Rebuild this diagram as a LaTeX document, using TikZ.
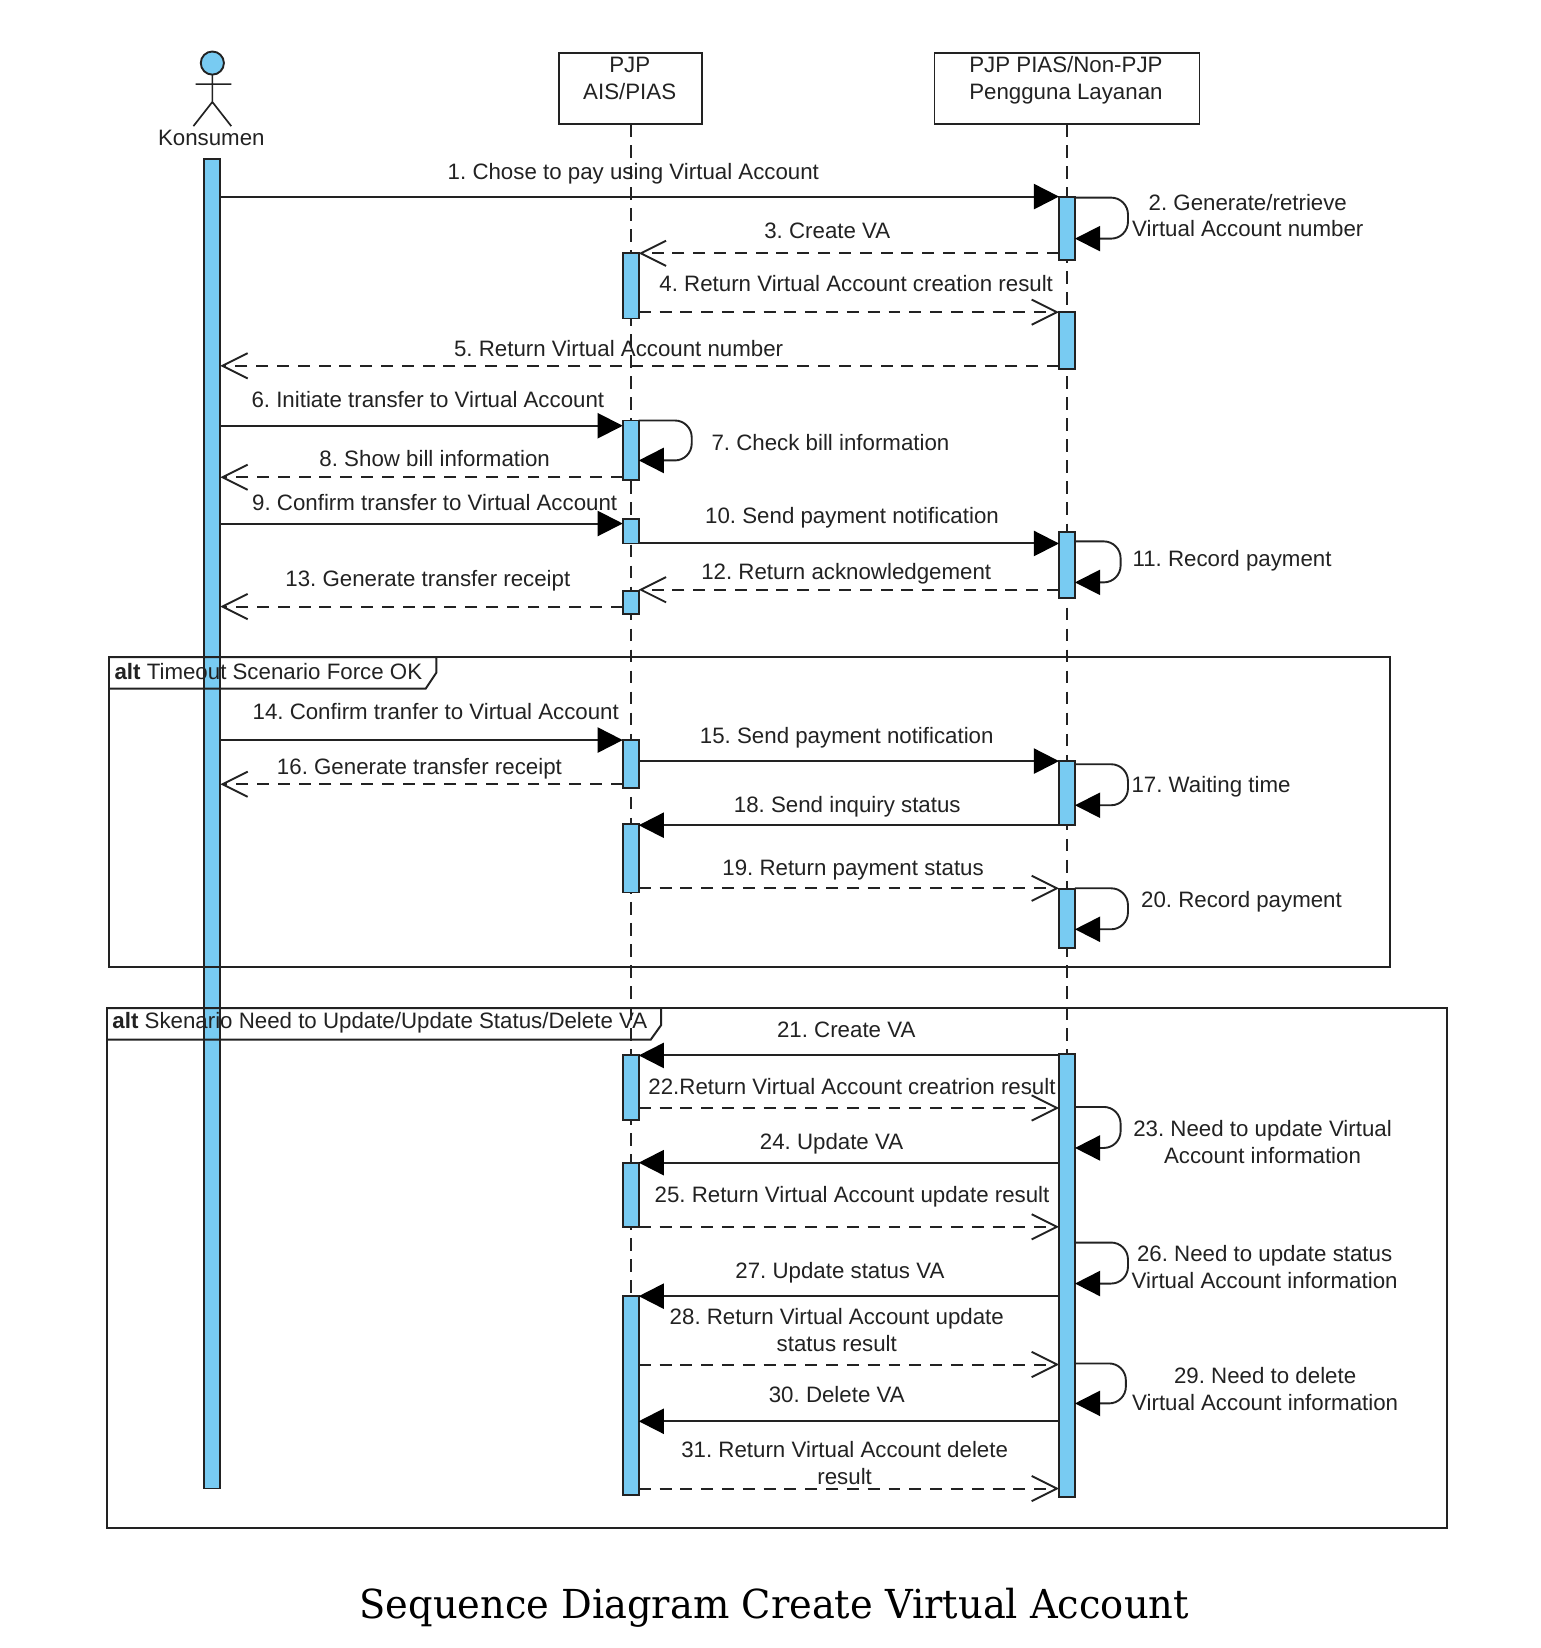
\documentclass[tikz,border=0pt]{standalone}
\usepackage{fontspec}
\setmainfont{Liberation Sans}
\newfontfamily\titlefont[FakeStretch=0.96]{DejaVu Serif}
\usetikzlibrary{arrows.meta}
\definecolor{barblue}{HTML}{78CBF2}
\definecolor{ink}{HTML}{222222}
\tikzset{
  x=0.5pt,y=-0.5pt,
  every node/.style={font=\fontsize{10.6}{12.7}\selectfont,text=ink,inner sep=0pt,outer sep=0pt},
  lifebox/.style={draw=ink,line width=0.9pt,fill=white,anchor=north west},
  lifeline/.style={draw=ink,line width=0.85pt,dash pattern=on 6pt off 4pt},
  actbar/.style={draw=ink,line width=0.9pt,fill=barblue,minimum width=7.6pt},
  solidmsg/.style={draw=ink,line width=0.95pt,-{Triangle[length=12pt,width=12pt,color=black,fill=black]}},
  dashmsg/.style={draw=ink,line width=0.95pt,dash pattern=on 5.7pt off 4.2pt,-{Straight Barb[length=12pt,width=12pt,line width=0.9pt]}},
  selfmsg/.style={draw=ink,line width=0.9pt,rounded corners=8pt,-{Triangle[length=12pt,width=12pt,color=black,fill=black]}},
  frameline/.style={draw=ink,line width=0.95pt},
  msglabel/.style={align=center},
}
\newcommand{\barnode}[4]{\node[actbar,minimum height={(#4-#3)*0.5pt}] (#1) at (#2,{(#3+#4)/2}) {};}
\newcommand{\lbl}[4]{\node[msglabel] (#1) at (#2,#3) {#4};}
\newcommand{\solidgo}[3]{\draw[solidmsg] (#1.east |- 0,#3) -- (#2.west |- 0,#3);}
\newcommand{\solidback}[3]{\draw[solidmsg] (#1.west |- 0,#3) -- (#2.east |- 0,#3);}
\newcommand{\dashgo}[3]{\draw[dashmsg] (#1.east |- 0,#3) -- (#2.west |- 0,#3);}
\newcommand{\dashback}[3]{\draw[dashmsg] (#1.west |- 0,#3) -- (#2.east |- 0,#3);}
\newcommand{\selfloop}[4]{\draw[selfmsg] (#1.east |- 0,#2) -- (#3,#2) -- (#3,#4) -- (#1.east |- 0,#4);}
\begin{document}
\frenchspacing
\begin{tikzpicture}
\fill[white] (0,0) rectangle (1465,1567.7);
\useasboundingbox (0,0) rectangle (1465,1567.7);

% lifelines and heads
\node[lifebox,minimum width=68pt,minimum height=34pt] (pjp) at (532,50) {};
\node[lifebox,minimum width=126pt,minimum height=34pt] (pia) at (889,50) {};
\node[align=center] (pjplabel) at (599,74.5) {PJP\\AIS/PIAS};
\node[align=center] (pialabel) at (1014,76) {PJP PIAS/Non-PJP\\Pengguna Layanan};
\coordinate (pjpend) at (600,1233);
\coordinate (piaend) at (1015,1003);
\draw[lifeline] (pjp.south) -- (pjpend);
\draw[lifeline] (pia.south) -- (piaend);

% actor
\node[draw=ink,line width=0.9pt,fill=barblue,circle,minimum size=11pt] (head) at (202,60) {};
\coordinate (hip) at (202,97);
\coordinate (armL) at (186,80);
\coordinate (armR) at (220,80);
\coordinate (legL) at (184,120);
\coordinate (legR) at (220,120);
\draw[draw=ink,line width=0.8pt] (head.south) -- (hip) -- (legL) (hip) -- (legR) (armL) -- (armR);
\node (konsumen) at (201,131) {Konsumen};

% activation bars
\barnode{k}{202}{151}{1416}
\barnode{a1}{600}{241}{303}
\barnode{a2}{600}{400}{457}
\barnode{a3}{600}{494}{517}
\barnode{a4}{600}{562}{584}
\barnode{a5}{600}{704}{750}
\barnode{a6}{600}{784}{849}
\barnode{a7}{600}{1004}{1065}
\barnode{a8}{600}{1106}{1167}
\barnode{a9}{600}{1233}{1422}
\barnode{b1}{1015}{187}{247}
\barnode{b2}{1015}{297}{351}
\barnode{b3}{1015}{506}{569}
\barnode{b4}{1015}{724}{785}
\barnode{b5}{1015}{846}{902}
\barnode{b6}{1015}{1003}{1424}

% frames
\node[frameline,draw,anchor=north west,minimum width=609pt,minimum height=147.5pt] (alt1) at (104,625) {};
\node[frameline,draw,anchor=north west,minimum width=637pt,minimum height=247.5pt] (alt2) at (102,959) {};
\draw[frameline] (alt1.north west) -- (415,625) -- (415,640) -- (405,655) -- (104,655);
\draw[frameline] (alt2.north west) -- (629,959) -- (629,975) -- (619,989) -- (102,989);
\node[anchor=west] (alt1label) at (109,638.5) {\textbf{alt} Timeout Scenario Force OK};
\node[anchor=west] (alt2label) at (107,973) {\textbf{alt} Skenario Need to Update/Update Status/Delete VA};

% messages
\solidgo{k}{b1}{187}
\selfloop{b1}{188}{1073}{227}
\dashback{b1}{a1}{241}
\dashgo{a1}{b2}{297}
\dashback{b2}{k}{348}
\solidgo{k}{a2}{405}
\selfloop{a2}{400}{658}{438}
\dashback{a2}{k}{454}
\solidgo{k}{a3}{498}
\solidgo{a3}{b3}{517}
\selfloop{b3}{515}{1066}{554}
\dashback{b3}{a4}{561}
\dashback{a4}{k}{577}
\solidgo{k}{a5}{704}
\solidgo{a5}{b4}{724}
\dashback{a5}{k}{746}
\selfloop{b4}{727}{1073}{766}
\solidback{b4}{a6}{785}
\dashgo{a6}{b5}{845}
\selfloop{b5}{845}{1073}{884}
\solidback{b6}{a7}{1004}
\dashgo{a7}{b6}{1054}
\selfloop{b6}{1053}{1066}{1092}
\solidback{b6}{a8}{1106}
\dashgo{a8}{b6}{1167}
\selfloop{b6}{1182}{1073}{1221}
\solidback{b6}{a9}{1233}
\dashgo{a9}{b6}{1298}
\selfloop{b6}{1297}{1071}{1335}
\solidback{b6}{a9}{1352}
\dashgo{a9}{b6}{1416}

% labels
\lbl{m1}{602.5}{165.5}{1. Chose to pay using Virtual Account}
\lbl{m2}{1187}{205}{2. Generate/retrieve\\Virtual Account number}
\lbl{m3}{787}{220}{3. Create VA}
\lbl{m4}{814.5}{270}{4. Return Virtual Account creation result}
\lbl{m5}{588.5}{332}{5. Return Virtual Account number}
\lbl{m6}{407}{380}{6. Initiate transfer to Virtual Account}
\lbl{m7}{790}{420.5}{7. Check bill information}
\lbl{m8}{413.5}{436}{8. Show bill information}
\lbl{m9}{413.5}{478.5}{9. Confirm transfer to Virtual Account}
\lbl{m10}{810.5}{492.5}{10. Send payment notification}
\lbl{m11}{1172}{533}{11. Record payment}
\lbl{m12}{805}{546}{12. Return acknowledgement}
\lbl{m13}{407}{552}{13. Generate transfer receipt}
\lbl{m14}{414.5}{677}{14. Confirm tranfer to Virtual Account}
\lbl{m15}{805.5}{702}{15. Send payment notification}
\lbl{m16}{399}{731}{16. Generate transfer receipt}
\lbl{m17}{1152}{748}{17. Waiting time}
\lbl{m18}{806}{767}{18. Send inquiry status}
\lbl{m19}{811.5}{828}{19. Return payment status}
\lbl{m20}{1181}{858}{20. Record payment}
\lbl{m21}{805}{980}{21. Create VA}
\lbl{m22}{810.5}{1034}{22.Return Virtual Account creatrion result}
\lbl{m23}{1201}{1086.5}{23. Need to update Virtual\\Account information}
\lbl{m24}{791}{1088}{24. Update VA}
\lbl{m25}{810.5}{1138}{25. Return Virtual Account update result}
\lbl{m26}{1203}{1205.5}{26. Need to update status\\Virtual Account information}
\lbl{m27}{799}{1211}{27. Update status VA}
\lbl{m28}{796}{1265.5}{28. Return Virtual Account update\\status result}
\lbl{m29}{1203.5}{1321.5}{29. Need to delete\\Virtual Account information}
\lbl{m30}{796}{1327}{30. Delete VA}
\lbl{m31}{803.5}{1391.5}{31. Return Virtual Account delete\\result}

\node[font={\titlefont\fontsize{19}{22}\selectfont},text=black] (title) at (736.5,1529) {Sequence Diagram Create Virtual Account};
\end{tikzpicture}
\end{document}
